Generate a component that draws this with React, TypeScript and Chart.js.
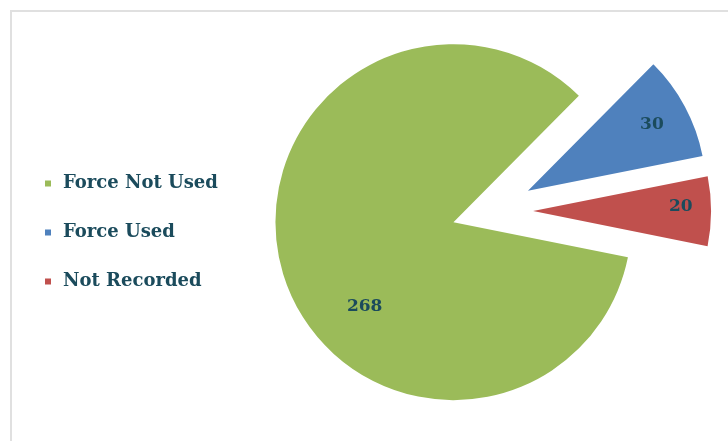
import React, { useEffect, useRef } from "react";
import { Chart, registerables } from "chart.js";

Chart.register(...registerables);

const categories = ["Force Not Used", "Force Used", "Not Recorded"];
const values = [268, 30, 20];
const colors = ["#9BBB59", "#4F81BD", "#C0504D"];
// explosion distance of each slice (px), applied along the slice's mid angle
const explodeDistances = [38.3, 43, 43];
const labelAngleShift = [-26.8, 0, -1.9];
const labelRadiusFraction = [0.69, 0.79, 0.83];

const TEXT_COLOR = "#1B4B5C";
const FONT_FAMILY = '"DejaVu Serif", serif';

function midAngle(arc: any) {
  const { startAngle, endAngle } = arc.getProps(["startAngle", "endAngle"], true);
  return (startAngle + endAngle) / 2;
}

const explodeSlices = {
  id: "explodeSlices",
  beforeDatasetDraw(chart: any, args: any) {
    const ctx = chart.ctx;
    args.meta.data.forEach((arc: any, i: number) => {
      const mid = midAngle(arc);
      const d = explodeDistances[i];
      ctx.save();
      ctx.translate(Math.cos(mid) * d, Math.sin(mid) * d);
      arc.draw(ctx, chart.chartArea);
      ctx.restore();
    });
    return false;
  },
};

const sliceLabels = {
  id: "sliceLabels",
  afterDatasetsDraw(chart: any) {
    const meta = chart.getDatasetMeta(0);
    const ctx = chart.ctx;
    ctx.save();
    ctx.font = `bold 17px ${FONT_FAMILY}`;
    ctx.fillStyle = TEXT_COLOR;
    ctx.textAlign = "center";
    ctx.textBaseline = "middle";
    meta.data.forEach((arc: any, i: number) => {
      const { x, y, outerRadius } = arc.getProps(["x", "y", "outerRadius"], true);
      const mid = midAngle(arc);
      const d = explodeDistances[i];
      const la = mid + (labelAngleShift[i] * Math.PI) / 180;
      const r = outerRadius * labelRadiusFraction[i];
      ctx.fillText(
        String(values[i]),
        x + Math.cos(mid) * d + Math.cos(la) * r,
        y + Math.sin(mid) * d + Math.sin(la) * r
      );
    });
    ctx.restore();
  },
};

export default function App() {
  const ref = useRef<HTMLCanvasElement | null>(null);

  useEffect(() => {
    if (!ref.current) return;
    const chart = new Chart(ref.current, {
      type: "pie",
      data: {
        labels: categories,
        datasets: [
          {
            data: values,
            backgroundColor: colors,
            borderWidth: 0,
            offset: 0,
            hoverOffset: 0,
            radius: 178,
          } as any,
        ],
      },
      options: {
        responsive: false,
        animation: false,
        rotation: 101.4,
        radius: 178,
        layout: { padding: { left: 11, right: 67.7, top: 0, bottom: 19 } },
        plugins: {
          tooltip: { enabled: false },
          legend: {
            position: "left",
            title: {
              display: true,
              text: " ",
              font: { size: 10, lineHeight: 1.2 },
              padding: { top: 31, bottom: 0 },
            },
            labels: {
              usePointStyle: true,
              pointStyle: "rect",
              boxWidth: 12,
              boxHeight: 6,
              padding: 31,
              color: TEXT_COLOR,
              font: { family: FONT_FAMILY, size: 18, weight: "bold" },
            },
          },
        },
      } as any,
      plugins: [explodeSlices, sliceLabels],
    });
    return () => chart.destroy();
  }, []);

  return (
    <div
      style={{
        position: "fixed",
        left: 0,
        top: 0,
        width: 728,
        height: 441,
        overflow: "hidden",
        background: "#FFFFFF",
      }}
    >
      <div
        style={{
          position: "absolute",
          left: 10,
          top: 10,
          width: 740,
          height: 460,
          borderLeft: "2px solid #E0E0E0",
          borderTop: "2px solid #E0E0E0",
        }}
      />
      <canvas
        ref={ref}
        width={820}
        height={441}
        style={{ position: "absolute", left: 0, top: 0, display: "block" }}
      />
    </div>
  );
}
